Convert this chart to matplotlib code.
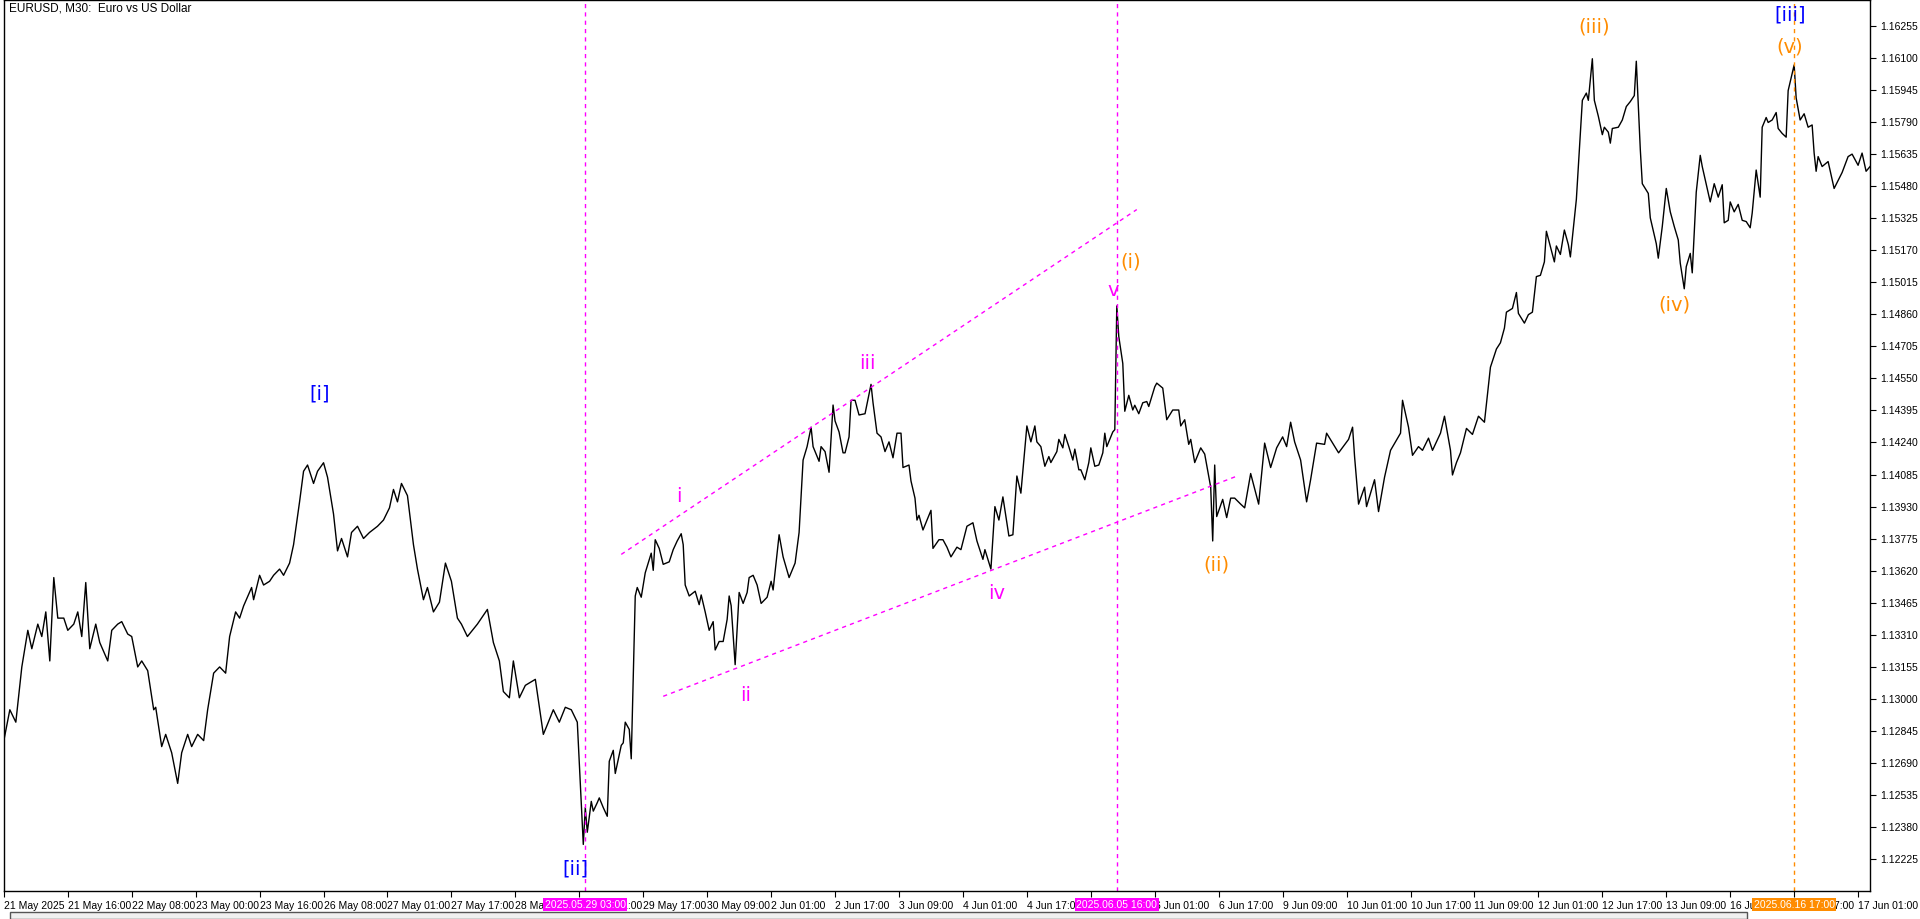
import matplotlib
matplotlib.use('Agg')
import matplotlib.pyplot as plt
from matplotlib.ticker import FixedLocator, FormatStrFormatter

plt.rcParams.update({
    'font.family': ['Liberation Sans', 'DejaVu Sans'],
    'font.size': 8,
})

# ---- EURUSD M30 close (bar index, price) ----
bars = [0, 3, 6, 9, 12, 14, 17, 19, 21, 23, 25, 27, 30, 32, 35, 37, 39, 41, 43, 46,
        48, 52, 54, 57, 59, 62, 64, 67, 69, 72, 75, 76, 79, 81, 84, 87, 89, 92, 94, 97,
        100, 102, 105, 108, 111, 113, 116, 118, 120, 124, 125, 128, 130, 133, 135, 138, 140, 143, 145, 148,
        150, 152, 155, 157, 160, 162, 165, 167, 169, 172, 174, 177, 180, 183, 187, 190, 193, 195, 197, 199,
        202, 205, 207, 210, 212, 215, 218, 221, 224, 227, 229, 232, 237, 242, 245, 248, 250, 253, 255, 258,
        261, 266, 270, 272, 275, 278, 281, 284, 287, 290, 291, 292, 294, 295, 297, 298, 300, 302, 303, 305,
        306, 309, 310, 311, 313, 314, 316, 317, 319, 321, 324, 325, 326, 328, 330, 333, 335, 337, 339, 340,
        341, 343, 346, 348, 349, 351, 353, 355, 356, 358, 360, 362, 363, 364, 366, 368, 370, 372, 373, 375,
        377, 379, 382, 384, 385, 387, 388, 390, 393, 396, 398, 400, 402, 404, 405, 408, 409, 411, 413, 415,
        416, 418, 420, 421, 423, 424, 426, 428, 431, 434, 435, 437, 439, 441, 443, 445, 447, 449, 450, 453,
        454, 456, 457, 458, 460, 462, 464, 465, 468, 470, 472, 474, 477, 479, 482, 485, 487, 490, 491, 494,
        496, 498, 500, 503, 505, 507, 509, 512, 514, 516, 517, 519, 521, 523, 524, 527, 528, 530, 531, 533,
        535, 536, 538, 539, 541, 543, 544, 546, 548, 550, 551, 552, 555, 556, 557, 558, 560, 561, 563, 565,
        566, 568, 570, 572, 573, 576, 577, 580, 582, 585, 588, 589, 591, 593, 594, 596, 599, 601, 604, 605,
        606, 607, 610, 612, 614, 616, 619, 621, 623, 624, 628, 631, 634, 637, 640, 642, 644, 646, 649, 652,
        654, 657, 661, 662, 665, 668, 673, 675, 676, 678, 681, 682, 686, 688, 691, 694, 699, 700, 703, 705,
        708, 710, 713, 715, 719, 721, 724, 725, 727, 729, 732, 735, 738, 741, 744, 747, 749, 751, 752, 755,
        757, 758, 761, 763, 765, 767, 769, 771, 772, 776, 777, 779, 781, 783, 784, 787, 790, 792, 793, 795,
        796, 798, 800, 801, 803, 804, 805, 808, 810, 812, 814, 816, 817, 819, 820, 823, 824, 827, 828, 830,
        832, 834, 836, 838, 839, 841, 842, 844, 845, 847, 849, 850, 853, 854, 856, 858, 860, 861, 863, 864,
        866, 868, 870, 872, 874, 875, 877, 879, 880, 882, 883, 885, 887, 888, 890, 892, 893, 896, 897, 899,
        901, 903, 905, 906, 907, 908, 910, 913, 916, 920, 923, 925, 928, 930, 932, 934]
close = [1.12799, 1.12948, 1.12888, 1.13155, 1.13332, 1.13243, 1.13362, 1.13302, 1.13421, 1.13184,
         1.13587, 1.13391, 1.13391, 1.13332, 1.13362, 1.13421, 1.13302, 1.13563, 1.13243, 1.13362,
         1.13273, 1.13184, 1.13332, 1.13362, 1.13374, 1.13314, 1.13302, 1.13155, 1.13184, 1.13137,
         1.12948, 1.12960, 1.12770, 1.12829, 1.12740, 1.12592, 1.12740, 1.12829, 1.12770, 1.12829,
         1.12799, 1.12948, 1.13125, 1.13155, 1.13125, 1.13302, 1.13421, 1.13391, 1.13450, 1.13539,
         1.13480, 1.13598, 1.13551, 1.13569, 1.13598, 1.13628, 1.13598, 1.13657, 1.13746, 1.13953,
         1.14101, 1.14131, 1.14042, 1.14101, 1.14142, 1.14072, 1.13894, 1.13716, 1.13776, 1.13687,
         1.13805, 1.13835, 1.13776, 1.13805, 1.13835, 1.13865, 1.13924, 1.14013, 1.13953, 1.14042,
         1.13983, 1.13746, 1.13628, 1.13480, 1.13539, 1.13421, 1.13468, 1.13657, 1.13569, 1.13391,
         1.13362, 1.13302, 1.13362, 1.13433, 1.13273, 1.13184, 1.13036, 1.13006, 1.13184, 1.13006,
         1.13066, 1.13095, 1.12829, 1.12876, 1.12948, 1.12888, 1.12960, 1.12948, 1.12888, 1.12297,
         1.12475, 1.12356, 1.12505, 1.12458, 1.12499, 1.12522, 1.12475, 1.12433, 1.12699, 1.12752,
         1.12640, 1.12776, 1.12788, 1.12888, 1.12853, 1.12711, 1.13498, 1.13539, 1.13492, 1.13610,
         1.13705, 1.13622, 1.13770, 1.13728, 1.13651, 1.13663, 1.13722, 1.13764, 1.13799, 1.13746,
         1.13551, 1.13498, 1.13521, 1.13456, 1.13503, 1.13421, 1.13332, 1.13374, 1.13237, 1.13278,
         1.13278, 1.13385, 1.13498, 1.13451, 1.13166, 1.13515, 1.13462, 1.13515, 1.13587, 1.13598,
         1.13551, 1.13462, 1.13492, 1.13569, 1.13527, 1.13705, 1.13794, 1.13687, 1.13587, 1.13657,
         1.13805, 1.14155, 1.14220, 1.14314, 1.14220, 1.14149, 1.14220, 1.14196, 1.14096, 1.14421,
         1.14344, 1.14291, 1.14190, 1.14190, 1.14267, 1.14444, 1.14444, 1.14373, 1.14379, 1.14521,
         1.14432, 1.14285, 1.14267, 1.14196, 1.14243, 1.14166, 1.14285, 1.14285, 1.14119, 1.14131,
         1.14054, 1.13971, 1.13865, 1.13888, 1.13817, 1.13865, 1.13912, 1.13728, 1.13770, 1.13770,
         1.13734, 1.13687, 1.13734, 1.13722, 1.13835, 1.13852, 1.13764, 1.13675, 1.13722, 1.13628,
         1.13930, 1.13865, 1.13977, 1.13788, 1.13794, 1.14078, 1.13995, 1.14320, 1.14243, 1.14320,
         1.14243, 1.14220, 1.14125, 1.14172, 1.14143, 1.14196, 1.14255, 1.14214, 1.14279, 1.14220,
         1.14155, 1.14208, 1.14108, 1.14108, 1.14060, 1.14143, 1.14214, 1.14125, 1.14131, 1.14190,
         1.14285, 1.14220, 1.14291, 1.14302, 1.14900, 1.14752, 1.14622, 1.14391, 1.14468, 1.14397,
         1.14420, 1.14379, 1.14432, 1.14438, 1.14414, 1.14509, 1.14527, 1.14503, 1.14350, 1.14397,
         1.14397, 1.14320, 1.14350, 1.14231, 1.14255, 1.14143, 1.14214, 1.14184, 1.14024, 1.13764,
         1.14131, 1.13882, 1.13965, 1.13877, 1.13971, 1.13971, 1.13942, 1.13924, 1.14036, 1.14090,
         1.13942, 1.14237, 1.14119, 1.14214, 1.14267, 1.14220, 1.14338, 1.14243, 1.14155, 1.13953,
         1.14060, 1.14237, 1.14231, 1.14285, 1.14237, 1.14190, 1.14255, 1.14314, 1.14172, 1.13942,
         1.14024, 1.13930, 1.14060, 1.13906, 1.14072, 1.14202, 1.14285, 1.14444, 1.14314, 1.14178,
         1.14220, 1.14202, 1.14261, 1.14202, 1.14285, 1.14367, 1.14202, 1.14083, 1.14143, 1.14190,
         1.14308, 1.14279, 1.14367, 1.14338, 1.14604, 1.14692, 1.14722, 1.14793, 1.14870, 1.14888,
         1.14965, 1.14864, 1.14817, 1.14858, 1.14870, 1.15042, 1.15048, 1.15113, 1.15261, 1.15113,
         1.15190, 1.15149, 1.15267, 1.15196, 1.15137, 1.15415, 1.15894, 1.15929, 1.15894, 1.16095,
         1.15894, 1.15817, 1.15728, 1.15764, 1.15740, 1.15687, 1.15758, 1.15764, 1.15799, 1.15864,
         1.15888, 1.15917, 1.16083, 1.15657, 1.15491, 1.15444, 1.15326, 1.15201, 1.15131, 1.15284,
         1.15468, 1.15355, 1.15284, 1.15219, 1.15107, 1.14983, 1.15090, 1.15154, 1.15060, 1.15450,
         1.15628, 1.15574, 1.15444, 1.15403, 1.15491, 1.15426, 1.15486, 1.15302, 1.15314, 1.15403,
         1.15355, 1.15391, 1.15314, 1.15308, 1.15278, 1.15349, 1.15557, 1.15426, 1.15764, 1.15811,
         1.15787, 1.15799, 1.15835, 1.15758, 1.15734, 1.15716, 1.15941, 1.16065, 1.15906, 1.15799,
         1.15829, 1.15764, 1.15775, 1.15639, 1.15551, 1.15622, 1.15574, 1.15598, 1.15468, 1.15545,
         1.15622, 1.15634, 1.15580, 1.15639, 1.15551, 1.15574]

# time axis labels, one every 32 bars
time_labels = ["21 May 2025", "21 May 16:00", "22 May 08:00", "23 May 00:00", "23 May 16:00",
               "26 May 08:00", "27 May 01:00", "27 May 17:00", "28 May 09:00", "29 May 01:00",
               "29 May 17:00", "30 May 09:00", "2 Jun 01:00", "2 Jun 17:00", "3 Jun 09:00",
               "4 Jun 01:00", "4 Jun 17:00", "5 Jun 09:00", "6 Jun 01:00", "6 Jun 17:00",
               "9 Jun 09:00", "10 Jun 01:00", "10 Jun 17:00", "11 Jun 09:00", "12 Jun 01:00",
               "12 Jun 17:00", "13 Jun 09:00", "16 Jun 01:00", "16 Jun 17:00", "17 Jun 01:00",
               "17 Jun 09:00"]
price_ticks = [1.12225, 1.12380, 1.12535, 1.12690, 1.12845, 1.13000, 1.13155, 1.13310,
               1.13465, 1.13620, 1.13775, 1.13930, 1.14085, 1.14240, 1.14395, 1.14550,
               1.14705, 1.14860, 1.15015, 1.15170, 1.15325, 1.15480, 1.15635, 1.15790,
               1.15945, 1.16100, 1.16255]

# vertical markers: bar, label, colour
vlines = [(291, "2025.05.29 03:00", "#ff00ff"),
          (557, "2025.06.05 16:00", "#ff00ff"),
          (896, "2025.06.16 17:00", "#ff8c00")]

# channel trendlines (bar0, price0, bar1, price1)
trend_upper = (309, 1.13699, 567, 1.15366)
trend_lower = (330, 1.13013, 617, 1.14077)

# wave labels: text, bar, price, colour
waves = [("[i]", 158, 1.14474, "#0000ff"), ("[ii]", 286, 1.12178, "#0000ff"),
         ("[iii]", 894, 1.16308, "#0000ff"),
         ("i", 338, 1.13978, "#ff00ff"), ("ii", 371, 1.13018, "#ff00ff"),
         ("iii", 432, 1.14622, "#ff00ff"), ("iv", 497, 1.13509, "#ff00ff"),
         ("v", 555, 1.14977, "#ff00ff"),
         ("(i)", 564, 1.15113, "#ff8c00"), ("(ii)", 607, 1.13646, "#ff8c00"),
         ("(iii)", 796, 1.16249, "#ff8c00"), ("(iv)", 836, 1.14905, "#ff8c00"),
         ("(v)", 894, 1.16154, "#ff8c00")]

fig = plt.figure(figsize=(19.2, 9.19), dpi=100)
ax = fig.add_axes([0.002, 0.0305, 0.972, 0.9695])

ax.plot(bars, close, color='black', linewidth=1.0)
ax.set_xlim(0, 934)
ax.set_ylim(1.12072, 1.16379)

for x0, p0, x1, p1 in (trend_upper, trend_lower):
    ax.plot([x0, x1], [p0, p1], color='#ff00ff', linestyle=(0, (3, 3)), linewidth=1.0)

for b, _, c in vlines:
    ax.axvline(b, color=c, linestyle=(0, (3, 3)), linewidth=1.0)

for txt, b, p, c in waves:
    ax.text(b, p, txt, color=c, fontsize=14, ha='center', va='center',
            family=['DejaVu Sans'])

ax.yaxis.tick_right()
ax.yaxis.set_major_locator(FixedLocator(price_ticks))
ax.yaxis.set_major_formatter(FormatStrFormatter('%.5f'))
ax.xaxis.set_major_locator(FixedLocator([32 * i for i in range(len(time_labels))]))
ax.set_xticklabels(time_labels, ha='left')
ax.tick_params(axis='both', direction='out', length=4, width=0.8, labelsize=7.5, pad=3)
for sp in ax.spines.values():
    sp.set_linewidth(1.0)

ax.text(0.003, 0.997, "EURUSD, M30:  Euro vs US Dollar", transform=ax.transAxes,
        ha='left', va='top', fontsize=8.5)

# highlighted time labels on the axis
for b, txt, c in vlines:
    ax.annotate(txt, xy=(b, 0), xycoords=('data', 'axes fraction'), xytext=(0, -10),
                textcoords='offset points', ha='center', va='center', fontsize=7.5,
                color='white', bbox=dict(boxstyle='square,pad=0.15', fc=c, ec='none'),
                annotation_clip=False, zorder=10)

# tab strip at the bottom
fig.patches.append(plt.Rectangle((0.005, 0.0), 0.905, 0.008, transform=fig.transFigure,
                                 facecolor='#f0f0f0', edgecolor='#555555', linewidth=1.0))

fig.savefig('out.png', dpi=100, facecolor='white')
